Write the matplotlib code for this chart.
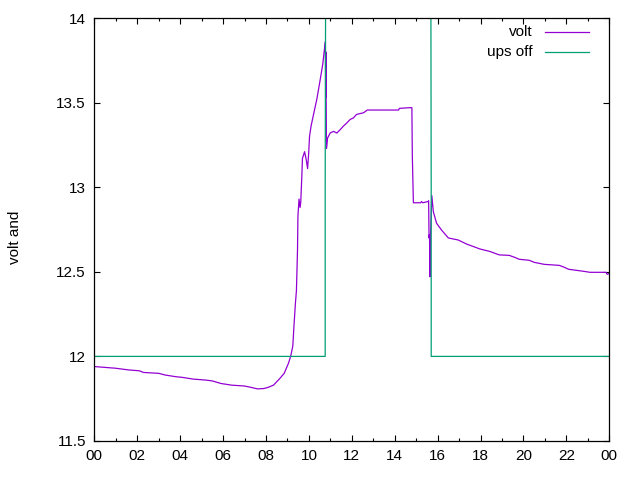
import numpy as np
import matplotlib
matplotlib.use("Agg")
from matplotlib import pyplot as plt

plt.rcParams['font.family'] = ['Liberation Sans', 'DejaVu Sans']

# volt readings over the day (hour, volts)
hours = [0.0, 0.5, 1.0, 1.3, 1.6, 2.1, 2.3, 3.0, 3.3, 3.8, 4.1, 4.6, 5.2, 5.5, 5.9,
         6.4, 7.0, 7.3, 7.6, 7.9, 8.1, 8.35, 8.5, 8.65, 8.85, 8.95, 9.05, 9.15, 9.25,
         9.3, 9.37, 9.42, 9.47, 9.49, 9.54, 9.59, 9.62, 9.67, 9.70, 9.80, 9.88, 9.94,
         9.99, 10.03, 10.1, 10.2, 10.37, 10.52, 10.65, 10.72, 10.77, 10.78, 10.79,
         10.82, 10.87, 10.99, 11.15, 11.3, 11.46, 11.6, 11.77, 11.92, 12.08, 12.22,
         12.55, 12.72, 13.2, 14.18, 14.22, 14.72, 14.8, 14.82, 14.87, 15.2, 15.25,
         15.3, 15.55, 15.58, 15.6, 15.62, 15.65, 15.67, 15.73, 15.8, 15.95, 16.18,
         16.5, 16.96, 17.35, 17.97, 18.44, 18.87, 19.34, 19.6, 19.8, 20.27, 20.5,
         20.97, 21.67, 21.9, 22.1, 22.8, 23.1, 23.85, 23.9, 24.0]
volt = [11.94, 11.935, 11.93, 11.925, 11.92, 11.915, 11.905, 11.90, 11.89, 11.88,
        11.876, 11.866, 11.86, 11.855, 11.84, 11.83, 11.825, 11.817, 11.808, 11.81,
        11.817, 11.83, 11.85, 11.87, 11.90, 11.93, 11.96, 12.0, 12.06, 12.17, 12.31,
        12.39, 12.63, 12.83, 12.93, 12.88, 12.91, 13.06, 13.17, 13.21, 13.16, 13.11,
        13.2, 13.30, 13.36, 13.42, 13.52, 13.63, 13.73, 13.81, 13.86, 13.53, 13.8,
        13.23, 13.29, 13.32, 13.33, 13.32, 13.34, 13.36, 13.38, 13.40, 13.41, 13.43,
        13.44, 13.456, 13.456, 13.456, 13.466, 13.47, 13.47, 13.19, 12.908, 12.908,
        12.915, 12.908, 12.915, 12.92, 12.70, 12.72, 12.47, 12.72, 12.95, 12.855,
        12.787, 12.747, 12.70, 12.688, 12.664, 12.635, 12.62, 12.60, 12.597, 12.585,
        12.574, 12.568, 12.556, 12.544, 12.538, 12.527, 12.515, 12.503, 12.497,
        12.497, 12.485, 12.49]

# ups off flag (drawn off the top while ups is off)
ups_hours = [0.0, 10.76, 10.76, 10.81, 15.66, 15.70, 15.70, 24.0]
ups_off = [12.0, 12.0, 13.0, 16.0, 16.0, 13.0, 12.0, 12.0]

xticks = [0, 2, 4, 6, 8, 10, 12, 14, 16, 18, 20, 22, 24]
xlabels = ['00', '02', '04', '06', '08', '10', '12', '14', '16', '18', '20', '22', '00']
yticks = [11.5, 12, 12.5, 13, 13.5, 14]
ylabels = ['11.5', '12', '12.5', '13', '13.5', '14']

fig = plt.figure(figsize=(6.4, 4.8), dpi=100)
ax = fig.add_axes([94.3/640, 1-441/480, (609.3-94.3)/640, (441-18)/480])

ax.plot(hours, volt, color='#9400d3', lw=0.9)
ax.plot(ups_hours, ups_off, color='#009e73', lw=0.9)

ax.set_xlim(0, 24)
ax.set_ylim(11.5, 14)
ax.set_xticks(xticks)
ax.set_xticklabels(xlabels)
ax.set_xticks(np.arange(1, 24, 2), minor=True)
ax.set_yticks(yticks)
ax.set_yticklabels(ylabels)
ax.tick_params(which='both', direction='in', top=True, right=True, labelsize=11, width=0.8)
ax.tick_params(which='major', length=4.5, pad=6)
ax.tick_params(which='minor', length=2.5)
for s in ax.spines.values():
    s.set_linewidth(0.9)

# legend, gnuplot style
ax.text(0.851, 0.966, 'volt', transform=ax.transAxes, ha='right', va='center', fontsize=11)
ax.text(0.851, 0.920, 'ups off', transform=ax.transAxes, ha='right', va='center', fontsize=11)
ax.plot([0.875, 0.961], [0.966, 0.966], transform=ax.transAxes, color='#9400d3', lw=0.9)
ax.plot([0.875, 0.961], [0.920, 0.920], transform=ax.transAxes, color='#009e73', lw=0.9)

fig.text(15/640, 1-237/480, 'volt and', rotation=90, ha='center', va='center', fontsize=11)

fig.savefig('out.png', dpi=100)
